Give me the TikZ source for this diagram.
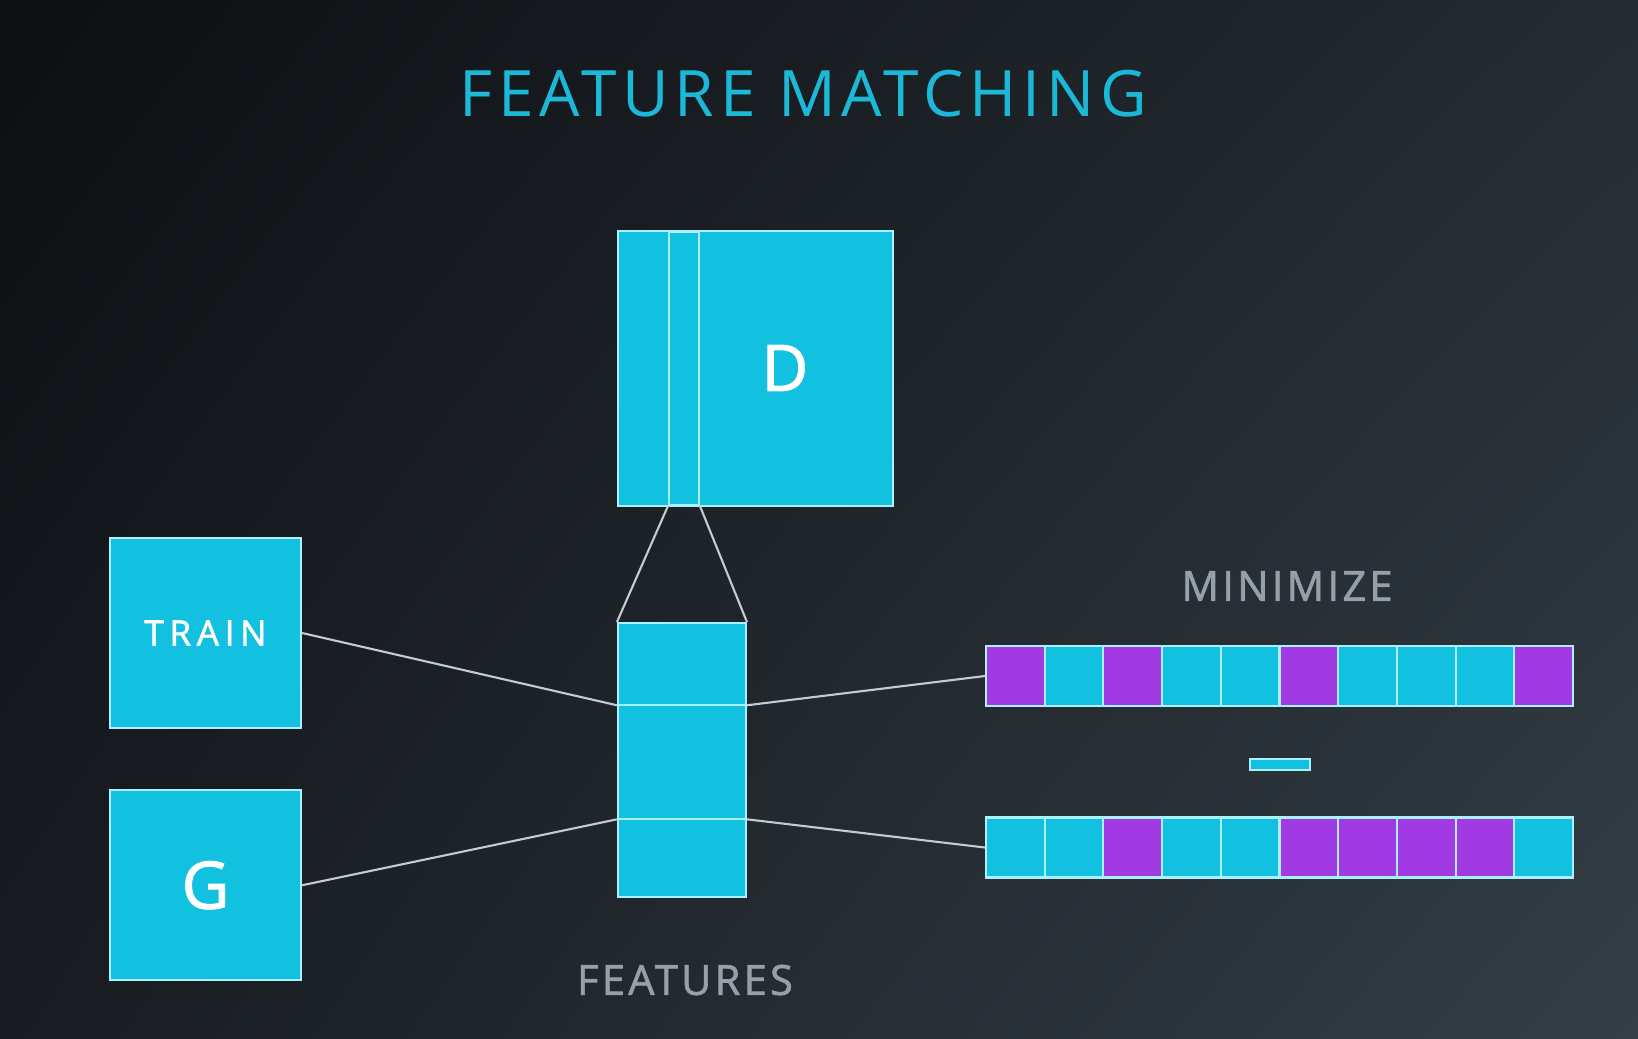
\documentclass[tikz,border=0pt]{standalone}
\usepackage{fontspec}
\setmainfont{Open Sans}
\newfontfamily\fonteTitulo[LetterSpace=9]{Open Sans}
\newfontfamily\fonteRotulo[LetterSpace=8,FakeBold=1.6]{Open Sans}
\newfontfamily\fonteCaixa[LetterSpace=16,FakeBold=1.6]{Open Sans}
\newfontfamily\fonteLetra[FakeBold=1.8]{Open Sans}
\definecolor{fundoA}{RGB}{13,15,18}
\definecolor{fundoB}{RGB}{36,43,49}
\definecolor{fundoC}{RGB}{24,28,33}
\definecolor{fundoD}{RGB}{52,62,70}
\definecolor{cianoCaixa}{RGB}{18,192,224}
\definecolor{roxoCelula}{RGB}{162,58,228}
\definecolor{contorno}{RGB}{170,240,255}
\definecolor{linhaCinza}{RGB}{196,204,208}
\definecolor{cianoTitulo}{RGB}{28,184,216}
\definecolor{cinzaRotulo}{RGB}{150,160,168}
\usetikzlibrary{positioning,calc,shadings}
\tikzset{
  caixa/.style={rectangle, draw=contorno, line width=0.6pt, fill=cianoCaixa,
                inner sep=0pt, text=white},
  celula/.style={rectangle, draw=contorno, line width=0.6pt, inner sep=0pt,
                 minimum width=0.587cm, minimum height=0.6cm},
  ligacao/.style={draw=linhaCinza, line width=0.6pt},
  rotulo/.style={text=cinzaRotulo, font=\fonteRotulo\fontsize{11.8}{14}\selectfont},
}
\begin{document}
\begin{tikzpicture}[x=0.01cm, y=-0.01cm, node distance=0.6cm]
  \shade[upper left=fundoA, upper right=fundoB, lower left=fundoC, lower right=fundoD]
        (0,0) rectangle (1638,1038);
  \node[text=cianoTitulo, font=\fonteTitulo\fontsize{18.2}{20}\selectfont] (titulo) at (803,94) {FEATURE MATCHING};
  \node[caixa, minimum width=2.75cm, minimum height=2.75cm] (d) at (755.5,368.5) {};
  \node[caixa, minimum width=0.30cm, minimum height=2.73cm, anchor=north west] (faixa)
        at ($(d.north west)+(0.51cm,-0.01cm)$) {};
  \node[text=white, font=\fonteLetra\fontsize{18.2}{20}\selectfont] (dtexto) at (785,368) {D};
  \node[caixa, minimum width=1.28cm, minimum height=2.74cm, below=1.15cm of d.south west,
        anchor=north west] (feat) {};
  \coordinate (fae) at ($(feat.north west)+(0,-0.83cm)$);
  \coordinate (fad) at ($(feat.north east)+(0,-0.83cm)$);
  \coordinate (fbe) at ($(feat.north west)+(0,-1.97cm)$);
  \coordinate (fbd) at ($(feat.north east)+(0,-1.97cm)$);
  \draw[contorno, line width=0.6pt] (fae) -- (fad) (fbe) -- (fbd);
  \draw[ligacao] (faixa.south west) -- (feat.north west);
  \draw[ligacao] (faixa.south east) -- (feat.north east);
  \node[caixa, minimum width=1.91cm, minimum height=1.90cm,
        font=\fonteCaixa\fontsize{10}{12}\selectfont] (train) at (205.5,633) {TRAIN};
  \node[caixa, minimum width=1.91cm, minimum height=1.90cm, below=of train,
        font=\fonteLetra\fontsize{18.6}{20}\selectfont] (g) {G};
  \foreach \cor [count=\i] in {roxoCelula,cianoCaixa,roxoCelula,cianoCaixa,cianoCaixa,
                               roxoCelula,cianoCaixa,cianoCaixa,cianoCaixa,roxoCelula}
    \node[celula, fill=\cor] (t\i) at ({986+58.7*(\i-0.5)},676) {};
  \foreach \cor [count=\i] in {cianoCaixa,cianoCaixa,roxoCelula,cianoCaixa,cianoCaixa,
                               roxoCelula,roxoCelula,roxoCelula,roxoCelula,cianoCaixa}
    \node[celula, fill=\cor] (b\i) at ({986+58.7*(\i-0.5)},847.5) {};
  \node[caixa, minimum width=0.6cm, minimum height=0.11cm] (menos) at (1280,764.5) {};
  \node[rotulo] (minimizar) at (1287,586) {MINIMIZE};
  \node[rotulo] (features) at (685,980) {FEATURES};
  \draw[ligacao] (train.east) -- (fae);
  \draw[ligacao] (g.east) -- (fbe);
  \draw[ligacao] (fad) -- (t1.west);
  \draw[ligacao] (fbd) -- (b1.west);
\end{tikzpicture}
\end{document}
